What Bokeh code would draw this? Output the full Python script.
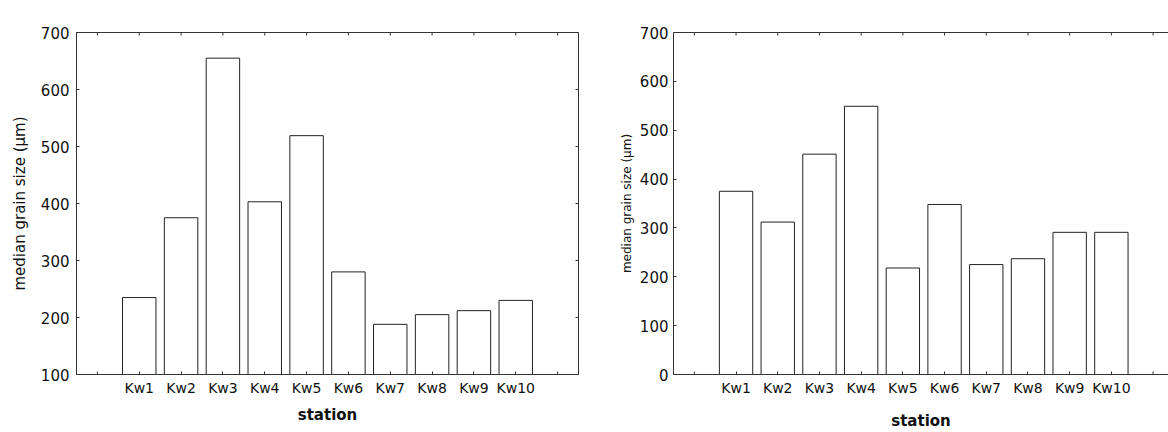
import math
from bokeh.plotting import figure
from bokeh.layouts import row
from bokeh.models import FixedTicker, LinearAxis, Label, Range1d
from bokeh.embed import file_html
from bokeh.resources import INLINE

stations = ["Kw1", "Kw2", "Kw3", "Kw4", "Kw5", "Kw6", "Kw7", "Kw8", "Kw9", "Kw10"]
grain_1978 = [235, 375, 655, 403, 519, 280, 188, 205, 212, 230]
grain_1997 = [375, 312, 451, 549, 218, 348, 225, 237, 291, 291]
y_ticks_1978 = [100, 200, 300, 400, 500, 600, 700]
y_ticks_1997 = [0, 100, 200, 300, 400, 500, 600, 700]
titles = ["1978", "1997"]
x_label = "station"
y_label = "median grain size (\u00b5m)"

FONT = "DejaVu Sans"
AX = "#333333"
TXT = "#111111"


def style_axis(ax):
    ax.axis_line_color = AX
    ax.major_tick_line_color = AX
    ax.major_tick_in = 3
    ax.major_tick_out = 0
    ax.minor_tick_line_color = None
    ax.major_label_text_font = FONT
    ax.major_label_text_color = TXT


def make_fig(values, yticks, title, width, border_left, border_right, x_end,
             outline, ylab_size, ylab_standoff, xlab_standoff, ytick_standoff):
    xs = list(range(1, len(stations) + 1))
    slot_ticks = list(range(0, len(stations) + 2))
    empty_slots = [slot_ticks[0], slot_ticks[-1]]
    overrides = {x: s for x, s in zip(xs, stations)}
    p = figure(width=width, height=432, output_backend="svg", toolbar_location=None,
               x_range=Range1d(-0.5, x_end), y_range=Range1d(yticks[0], yticks[-1]),
               min_border_left=border_left, min_border_right=border_right,
               min_border_top=32, min_border_bottom=53)
    p.xgrid.visible = False
    p.ygrid.visible = False
    p.background_fill_color = "white"
    p.border_fill_color = "white"
    p.outline_line_color = AX if outline else None
    p.vbar(x=xs, top=values, bottom=yticks[0], width=0.8,
           fill_color="white", line_color="#222222", line_width=1)

    # inward tick marks without labels (top edge, empty slots on bottom, right edge)
    p.scatter(x=slot_ticks, y=[yticks[-1]] * len(slot_ticks), marker="dash",
              size=6, angle=math.pi / 2, line_color=AX, line_width=1)
    p.scatter(x=empty_slots, y=[yticks[0]] * len(empty_slots), marker="dash",
              size=6, angle=math.pi / 2, line_color=AX, line_width=1)
    if outline:
        p.scatter(x=[x_end] * len(yticks), y=yticks, marker="dash",
                  size=6, line_color=AX, line_width=1)

    xa = p.xaxis[0]
    xa.ticker = FixedTicker(ticks=xs)
    xa.major_label_overrides = overrides
    style_axis(xa)
    xa.major_label_text_font_size = "14px"
    xa.major_label_standoff = 5
    xa.axis_label = x_label
    xa.axis_label_text_font = FONT
    xa.axis_label_text_font_style = "bold"
    xa.axis_label_text_font_size = "15px"
    xa.axis_label_text_color = TXT
    xa.axis_label_standoff = xlab_standoff

    ya = p.yaxis[0]
    ya.ticker = FixedTicker(ticks=yticks)
    style_axis(ya)
    ya.major_label_text_font_size = "15px"
    ya.major_label_standoff = ytick_standoff
    ya.axis_label = y_label
    ya.axis_label_text_font = FONT
    ya.axis_label_text_font_style = "normal"
    ya.axis_label_text_font_size = ylab_size
    ya.axis_label_text_color = TXT
    ya.axis_label_standoff = ylab_standoff

    if not outline:
        top = LinearAxis(ticker=FixedTicker(ticks=[]))
        top.axis_line_color = AX
        top.minor_tick_line_color = None
        p.add_layout(top, "above")

    p.add_layout(Label(x=5, y=yticks[-1], text=title, y_offset=18,
                       text_align="center", text_baseline="middle",
                       text_font=FONT, text_font_size="13px", text_color=TXT))
    return p


p1 = make_fig(grain_1978, y_ticks_1978, titles[0], 600, 76, 22, 11.5, True,
              "15px", 9, 7, 7)
p2 = make_fig(grain_1997, y_ticks_1997, titles[1], 568, 73, 0, 11.37, False,
              "12px", 3, 13, 5)

layout = row(p1, p2, spacing=0)
open("out.html", "w").write(file_html(layout, INLINE))
